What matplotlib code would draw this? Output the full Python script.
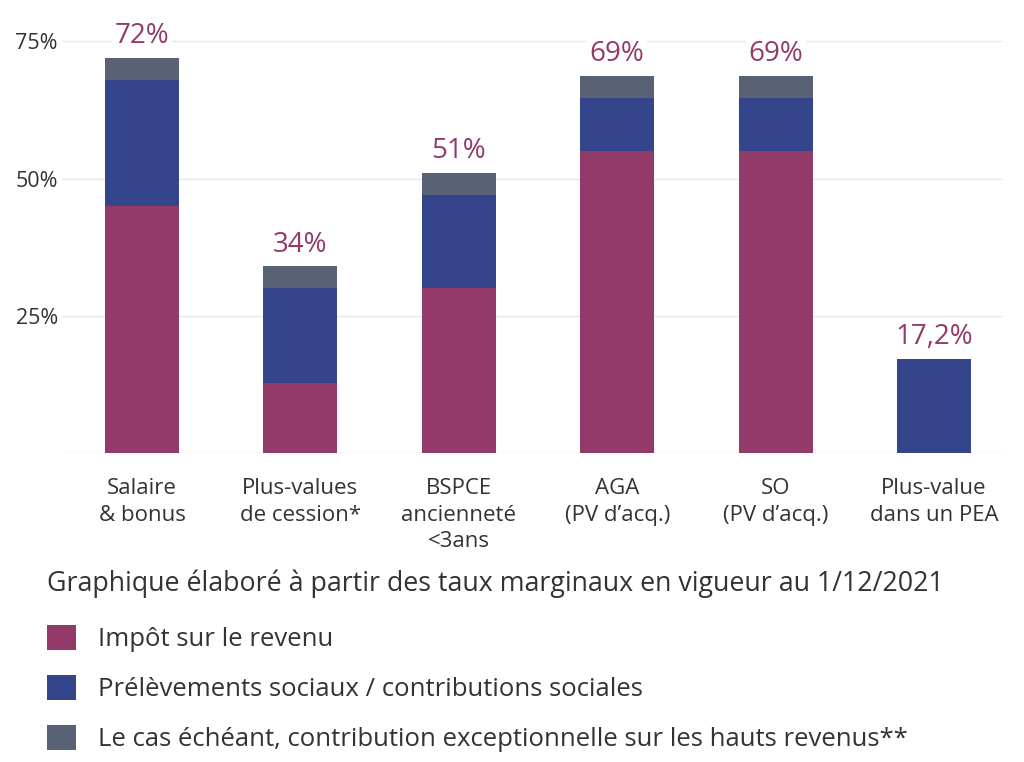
import numpy as np
import matplotlib.pyplot as plt
from matplotlib.patches import Patch

plt.rcParams['font.family'] = ['Open Sans', 'DejaVu Sans']

categories = ["Salaire\n& bonus", "Plus-values\nde cession*", "BSPCE\nancienneté\n<3ans",
              "AGA\n(PV d’acq.)", "SO\n(PV d’acq.)", "Plus-value\ndans un PEA"]
impot = [45, 12.8, 30, 55, 55, 0]
prelev = [23, 17.2, 17, 9.7, 9.7, 17.2]
cehr = [4, 4, 4, 4, 4, 0]
totals = ["72%", "34%", "51%", "69%", "69%", "17,2%"]
series_names = ["Impôt sur le revenu",
                "Prélèvements sociaux / contributions sociales",
                "Le cas échéant, contribution exceptionnelle sur les hauts revenus**"]
colors = ["#933a6a", "#35458c", "#596275"]

fig = plt.figure(figsize=(10.24, 7.62), dpi=100)
ax = fig.add_axes([0.0605, 0.4055, 0.919, 0.5617])

x = np.arange(len(categories))
w = 0.467
b1 = np.array(impot)
b2 = b1 + np.array(prelev)
ax.bar(x, impot, w, color=colors[0], zorder=2)
ax.bar(x, prelev, w, bottom=b1, color=colors[1], zorder=2)
ax.bar(x, cehr, w, bottom=b2, color=colors[2], zorder=2)

tops = b2 + np.array(cehr)
for xi, t, lab in zip(x, tops, totals):
    ax.text(xi, t + 1.4, lab, ha='center', va='bottom', fontsize=20, color="#933a6a",
            bbox=dict(facecolor='white', edgecolor='none', pad=2), zorder=3)

ax.set_xlim(-0.505, 5.435)
ax.set_ylim(0, 78)
ax.set_yticks([25, 50, 75])
ax.set_yticklabels(["25%", "50%", "75%"])
ax.set_xticks(x)
ax.set_xticklabels(categories, fontsize=16, color="#333333", linespacing=1.35)
ax.tick_params(axis='y', labelsize=15.5, labelcolor="#333333", length=0, pad=3)
ax.tick_params(axis='x', length=0, pad=18)
ax.grid(axis='y', color="#e8e8e8", linewidth=1, zorder=0)
ax.axhline(0, color="#dddddd", linewidth=1, zorder=1)
for s in ax.spines.values():
    s.set_visible(False)

fig.text(0.046, 0.234, "Graphique élaboré à partir des taux marginaux en vigueur au 1/12/2021",
         fontsize=19.25, color="#333333", va='center', ha='left')

handles = [Patch(facecolor=c, edgecolor='none') for c in colors]
fig.legend(handles, series_names, loc='upper left', bbox_to_anchor=(0.046, 0.18),
           frameon=False, fontsize=18.5, handlelength=1.12, handleheight=1.12,
           handletextpad=0.85, labelspacing=0.88, labelcolor="#333333",
           borderaxespad=0, borderpad=0)

fig.savefig("out.png", dpi=100, facecolor='white')
